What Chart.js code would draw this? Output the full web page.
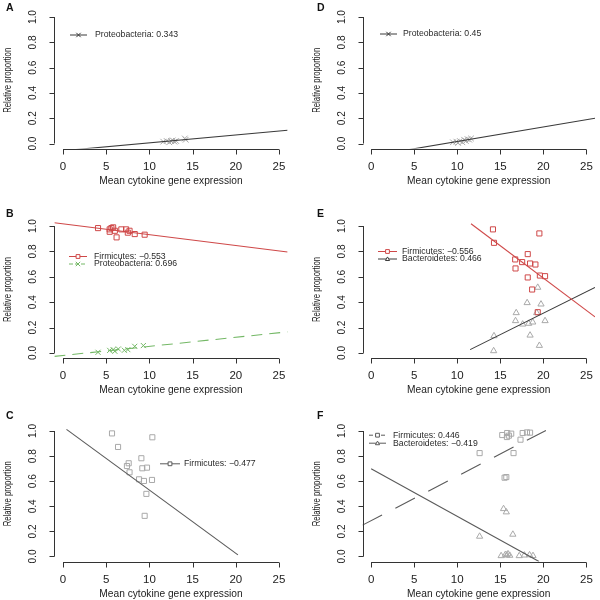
<!DOCTYPE html>
<html><head><meta charset="utf-8">
<script src="https://cdn.jsdelivr.net/npm/chart.js@4.4.1/dist/chart.umd.min.js"></script>
<style>
html,body{margin:0;padding:0;background:#fff;}
#wrap{position:relative;width:600px;height:600px;background:#fff;overflow:hidden;}
#wrap canvas{position:absolute;}
</style></head><body><div id="wrap"></div>
<script>
// ---------- tick labels / titles ----------
const xTickValues = [0, 5, 10, 15, 20, 25];
const yTickValues = [0, 0.2, 0.4, 0.6, 0.8, 1.0];
const yTickLabels = ['0.0', '0.2', '0.4', '0.6', '0.8', '1.0'];
const xTitle = 'Mean cytokine gene expression';
const yTitle = 'Relative proportion';
const panelLetters = ['A', 'D', 'B', 'E', 'C', 'F'];

// ---------- Panel A ----------
const aProteoX = [11.6, 12.0, 12.3, 12.5, 12.7, 12.9, 13.1, 14.1, 14.2];
const aProteoY = [0.015, 0.02, 0.01, 0.02, 0.025, 0.015, 0.02, 0.04, 0.03];
const aProteoLineX = [-1, 26];
const aProteoLineY = [-0.063, 0.105];
const aLegend = ['Proteobacteria: 0.343'];

// ---------- Panel D ----------
const dProteoX = [9.5, 9.9, 10.1, 10.3, 10.6, 10.8, 11.0, 11.2, 11.4, 11.6];
const dProteoY = [0.01, 0.015, 0.005, 0.02, 0.01, 0.03, 0.02, 0.035, 0.03, 0.04];
const dProteoLineX = [-1, 26];
const dProteoLineY = [-0.11, 0.2];
const dLegend = ['Proteobacteria: 0.45'];

// ---------- Panel B ----------
const bFirmX = [4.05, 5.4, 5.4, 5.6, 5.8, 6.0, 6.2, 6.75, 7.3, 7.5, 7.7, 8.3, 9.45];
const bFirmY = [0.984, 0.974, 0.955, 0.984, 0.99, 0.963, 0.911, 0.974, 0.974, 0.948, 0.963, 0.937, 0.932];
const bProteoX = [4.05, 5.4, 5.8, 6.0, 6.4, 7.1, 7.5, 8.3, 9.3];
const bProteoY = [0.005, 0.02, 0.026, 0.013, 0.031, 0.021, 0.026, 0.052, 0.058];
const bFirmLineX = [-1, 26];
const bFirmLineY = [1.026, 0.795];
const bProteoLineX = [-1, 26];
const bProteoLineY = [-0.027, 0.166];
const bLegend = ['Firmicutes: \u22120.553', 'Proteobacteria: 0.696'];

// ---------- Panel E ----------
const eFirmX = [14.15, 14.27, 19.54, 18.19, 16.73, 17.54, 18.46, 19.08, 16.77, 18.19, 19.6, 20.2, 18.7, 19.35];
const eFirmY = [0.974, 0.868, 0.942, 0.779, 0.737, 0.716, 0.705, 0.697, 0.666, 0.595, 0.61, 0.605, 0.5, 0.321];
const eBactX = [18.12, 16.85, 16.77, 17.6, 18.3, 18.77, 18.46, 19.54, 19.73, 20.2, 19.35, 19.23, 14.27, 14.23];
const eBactY = [0.395, 0.316, 0.253, 0.226, 0.232, 0.242, 0.139, 0.058, 0.384, 0.253, 0.516, 0.316, 0.134, 0.016];
const eFirmLineX = [11.6, 26];
const eFirmLineY = [1.018, 0.284];
const eBactLineX = [11.5, 26];
const eBactLineY = [0.026, 0.516];
const eLegend = ['Firmicutes: \u22120.556', 'Bacteroidetes: 0.466'];

// ---------- Panel C ----------
const cFirmX = [5.67, 10.34, 6.37, 9.07, 7.6, 7.4, 9.18, 9.72, 7.7, 8.8, 9.37, 10.3, 9.65, 9.45];
const cFirmY = [0.981, 0.95, 0.873, 0.783, 0.743, 0.721, 0.703, 0.708, 0.671, 0.615, 0.602, 0.61, 0.499, 0.324];
const cFirmLineX = [0.4, 20.25];
const cFirmLineY = [1.013, 0.013];
const cLegend = ['Firmicutes: \u22120.477'];

// ---------- Panel F ----------
const fFirmX = [15.23, 15.8, 16.0, 16.27, 15.77, 18.1, 18.46, 17.6, 17.35, 12.6, 16.54, 15.5, 15.7];
const fFirmY = [0.968, 0.984, 0.963, 0.979, 0.952, 0.989, 0.987, 0.984, 0.931, 0.824, 0.824, 0.628, 0.633];
const fBactX = [15.38, 15.7, 12.6, 16.46, 15.1, 15.6, 15.9, 16.1, 17.2, 17.8, 18.4, 18.8, 15.75];
const fBactY = [0.38, 0.354, 0.16, 0.176, 0.005, 0.015, 0.02, 0.008, 0.005, 0.01, 0.012, 0.006, 0.01];
const fFirmLineX = [-1, 20.3];
const fFirmLineY = [0.25, 1.005];
const fBactLineX = [0, 19.5];
const fBactLineY = [0.70, -0.04];
const fLegend = ['Firmicutes: 0.446', 'Bacteroidetes: \u22120.419'];

// ---------- styling ----------
const FONT = "'Liberation Sans', Arial, Helvetica, sans-serif";
const GRAY_PT = '#a9a9a9';
const DARK = '#3a3a3a';
const RED = '#cf4848';
const GREEN = '#74b866';
const MID = '#5a5a5a';

function pts(xs, ys) { return xs.map((v, i) => ({ x: v, y: ys[i] })); }

function scatterSet(xs, ys, style, color, r) {
  return { data: pts(xs, ys), showLine: false, pointStyle: style, pointRadius: r,
    borderColor: color, backgroundColor: 'rgba(0,0,0,0)', pointBorderWidth: 1, borderWidth: 1, order: 2 };
}
function lineSet(xs, ys, color, dash) {
  return { data: pts(xs, ys), showLine: true, pointRadius: 0, borderColor: color, borderWidth: 1.1,
    borderDash: dash || [], tension: 0, fill: false, order: 1 };
}

function drawMarker(ctx, style, x, y, s, color) {
  ctx.save();
  ctx.strokeStyle = color; ctx.lineWidth = 1; ctx.fillStyle = '#fff';
  ctx.beginPath();
  if (style === 'rect') { ctx.rect(x - s, y - s, 2 * s, 2 * s); ctx.fill(); }
  else if (style === 'triangle') { ctx.moveTo(x, y - s * 1.1); ctx.lineTo(x + s * 1.1, y + s * 0.8); ctx.lineTo(x - s * 1.1, y + s * 0.8); ctx.closePath(); ctx.fill(); }
  else { ctx.moveTo(x - s, y - s); ctx.lineTo(x + s, y + s); ctx.moveTo(x + s, y - s); ctx.lineTo(x - s, y + s); }
  ctx.stroke();
  ctx.restore();
}

const rStyle = {
  id: 'rStyle',
  afterDraw(chart) {
    const o = chart.options.plugins.rStyle;
    const { ctx, chartArea: ca } = chart;
    const xs = chart.scales.x, ys = chart.scales.y;
    ctx.save();
    ctx.strokeStyle = '#333'; ctx.lineWidth = 1; ctx.fillStyle = '#222';
    // x axis (R style: from first to last tick)
    const yb = Math.round(ca.bottom) + 0.5;
    ctx.beginPath();
    ctx.moveTo(xs.getPixelForValue(xTickValues[0]), yb);
    ctx.lineTo(xs.getPixelForValue(xTickValues[xTickValues.length - 1]), yb);
    xTickValues.forEach(t => { const p = Math.round(xs.getPixelForValue(t)) + 0.5; ctx.moveTo(p, yb); ctx.lineTo(p, yb + 5); });
    // y axis
    const xl = Math.round(ca.left) + 0.5;
    ctx.moveTo(xl, ys.getPixelForValue(yTickValues[0]));
    ctx.lineTo(xl, ys.getPixelForValue(yTickValues[yTickValues.length - 1]));
    yTickValues.forEach(t => { const p = Math.round(ys.getPixelForValue(t)) + 0.5; ctx.moveTo(xl, p); ctx.lineTo(xl - 5, p); });
    ctx.stroke();
    // x tick labels
    ctx.font = '11.5px ' + FONT; ctx.textAlign = 'center'; ctx.textBaseline = 'middle';
    xTickValues.forEach(t => ctx.fillText(String(t), xs.getPixelForValue(t), yb + 17));
    // y tick labels (rotated)
    yTickValues.forEach((t, i) => {
      ctx.save(); ctx.translate(xl - 21.5, ys.getPixelForValue(t)); ctx.rotate(-Math.PI / 2);
      ctx.scale(0.88, 1); ctx.font = '11.5px ' + FONT; ctx.fillText(yTickLabels[i], 0, 0); ctx.restore();
    });
    // axis titles
    ctx.font = '10.2px ' + FONT;
    ctx.fillText(xTitle, (ca.left + ca.right) / 2, yb + 31.5);
    ctx.save(); ctx.translate(xl - 46.5, (ca.top + ca.bottom) / 2); ctx.rotate(-Math.PI / 2);
    ctx.scale(0.76, 1); ctx.font = '10.2px ' + FONT; ctx.fillText(yTitle, 0, 0); ctx.restore();
    // panel letter
    ctx.font = 'bold 10.5px ' + FONT; ctx.textAlign = 'left'; ctx.textBaseline = 'alphabetic';
    ctx.fillStyle = '#111';
    ctx.fillText(o.letter, o.letterX, o.letterY);
    // legend (no box)
    o.legend.forEach(e => {
      ctx.save();
      ctx.strokeStyle = e.color; ctx.lineWidth = 1; ctx.setLineDash(e.dash || []);
      ctx.beginPath(); ctx.moveTo(o.lx1, e.y + 0.5); ctx.lineTo(o.lx2, e.y + 0.5); ctx.stroke();
      ctx.restore();
      drawMarker(ctx, e.style, (o.lx1 + o.lx2) / 2, e.y + 0.5, e.style === 'crossRot' ? 2.2 : 1.9, e.color);
      ctx.fillStyle = '#2a2a2a'; ctx.font = '8.7px ' + FONT; ctx.textBaseline = 'middle'; ctx.textAlign = 'left';
      ctx.fillText(e.text, o.tx, e.y + 0.5);
    });
    ctx.restore();
  }
};

const colPad = [{ left: 54.4, right: 12.4 }, { left: 62.5, right: 4.4 }];
const rowPad = [{ top: 12, bottom: 51.4 }, { top: 21, bottom: 42 }, { top: 26, bottom: 38.5 }];

const panels = [
  { col: 0, row: 0, letter: panelLetters[0],
    datasets: [scatterSet(aProteoX, aProteoY, 'crossRot', GRAY_PT, 4), lineSet(aProteoLineX, aProteoLineY, DARK)],
    lx1: 70, lx2: 87, tx: 95,
    legend: [{ text: aLegend[0], y: 34.5, color: DARK, style: 'crossRot' }] },
  { col: 1, row: 0, letter: panelLetters[1],
    datasets: [scatterSet(dProteoX, dProteoY, 'crossRot', GRAY_PT, 4), lineSet(dProteoLineX, dProteoLineY, DARK)],
    lx1: 80, lx2: 97, tx: 103,
    legend: [{ text: dLegend[0], y: 33.5, color: DARK, style: 'crossRot' }] },
  { col: 0, row: 1, letter: panelLetters[2],
    datasets: [scatterSet(bFirmX, bFirmY, 'rect', RED, 3.6), scatterSet(bProteoX, bProteoY, 'crossRot', GREEN, 3.6),
      lineSet(bFirmLineX, bFirmLineY, RED), lineSet(bProteoLineX, bProteoLineY, GREEN, [11, 7])],
    lx1: 69, lx2: 87, tx: 94,
    legend: [{ text: bLegend[0], y: 56, color: RED, style: 'rect' },
             { text: bLegend[1], y: 63.5, color: GREEN, style: 'crossRot', dash: [4, 2] }] },
  { col: 1, row: 1, letter: panelLetters[3],
    datasets: [scatterSet(eFirmX, eFirmY, 'rect', RED, 3.6), scatterSet(eBactX, eBactY, 'triangle', GRAY_PT, 3.6),
      lineSet(eFirmLineX, eFirmLineY, RED), lineSet(eBactLineX, eBactLineY, DARK)],
    lx1: 78, lx2: 97, tx: 102,
    legend: [{ text: eLegend[0], y: 51, color: RED, style: 'rect' },
             { text: eLegend[1], y: 58.5, color: DARK, style: 'triangle' }] },
  { col: 0, row: 2, letter: panelLetters[4],
    datasets: [scatterSet(cFirmX, cFirmY, 'rect', GRAY_PT, 3.6), lineSet(cFirmLineX, cFirmLineY, MID)],
    lx1: 160, lx2: 180, tx: 184,
    legend: [{ text: cLegend[0], y: 63.3, color: MID, style: 'rect' }] },
  { col: 1, row: 2, letter: panelLetters[5],
    datasets: [scatterSet(fFirmX, fFirmY, 'rect', GRAY_PT, 3.6), scatterSet(fBactX, fBactY, 'triangle', GRAY_PT, 3.6),
      lineSet(fFirmLineX, fFirmLineY, MID, [22, 15]), lineSet(fBactLineX, fBactLineY, MID)],
    lx1: 69, lx2: 86, tx: 93,
    legend: [{ text: fLegend[0], y: 34.7, color: MID, style: 'rect', dash: [4, 2] },
             { text: fLegend[1], y: 42.7, color: MID, style: 'triangle' }] }
];

const wrap = document.getElementById('wrap');
panels.forEach(p => {
  const cv = document.createElement('canvas');
  cv.width = 300; cv.height = 200;
  cv.style.left = (p.col * 300) + 'px'; cv.style.top = (p.row * 200) + 'px';
  cv.style.width = '300px'; cv.style.height = '200px';
  wrap.appendChild(cv);
  const cp = colPad[p.col], rp = rowPad[p.row];
  new Chart(cv.getContext('2d'), {
    type: 'scatter',
    data: { datasets: p.datasets },
    options: {
      responsive: false, animation: false, events: [], devicePixelRatio: window.devicePixelRatio || 1,
      layout: { padding: { left: cp.left, right: cp.right, top: rp.top, bottom: rp.bottom } },
      scales: {
        x: { type: 'linear', min: -1, max: 26, display: false },
        y: { type: 'linear', min: -0.04, max: 1.04, display: false }
      },
      plugins: {
        legend: { display: false }, tooltip: { enabled: false },
        rStyle: { letter: p.letter, letterX: p.col === 0 ? 6 : 17, letterY: p.row === 0 ? 11 : (p.row === 1 ? 217 - 200 : 419 - 400),
          legend: p.legend, lx1: p.lx1, lx2: p.lx2, tx: p.tx }
      }
    },
    plugins: [rStyle]
  });
});
</script>
</body></html>
